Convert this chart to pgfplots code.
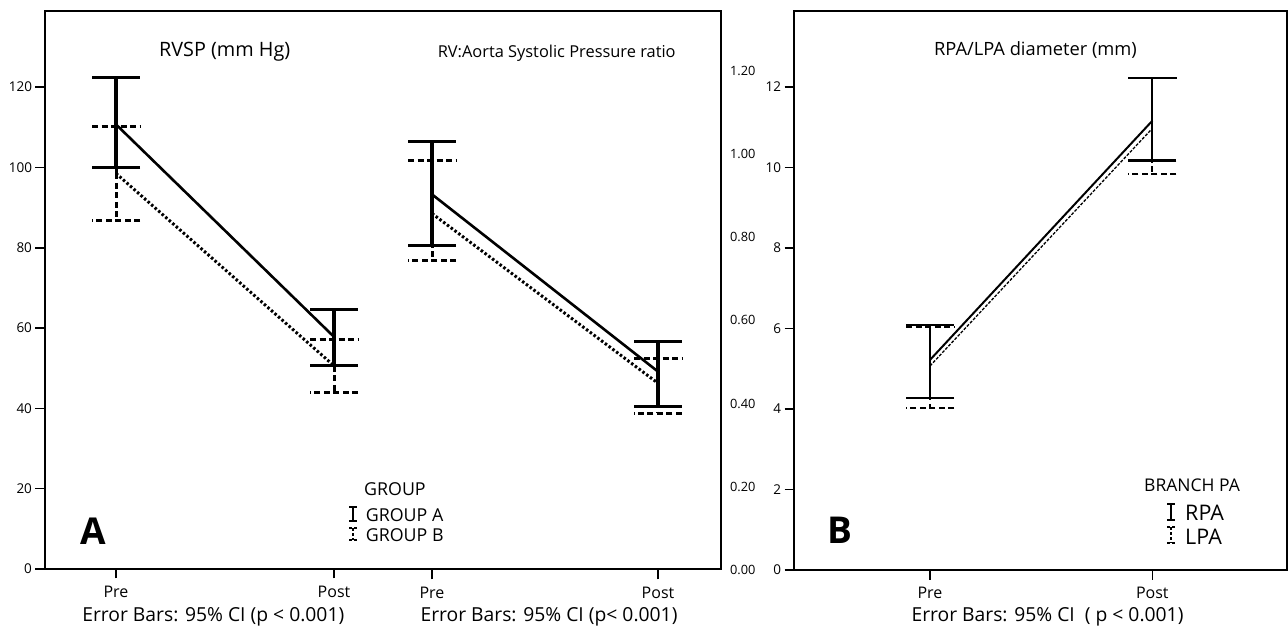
\documentclass[border=0pt]{standalone}
\usepackage{fontspec}
\setmainfont{Open Sans}
\usepackage{pgfplots}
\pgfplotsset{compat=1.18}
\begin{document}
\begin{tikzpicture}[x=1pt,y=1pt]
\path[use as bounding box] (0,0) rectangle (1288,627);
\pgfplotsset{
  every axis/.append style={scale only axis, anchor=south west,
    /pgf/number format/assume math mode=true,
    tick align=outside, major tick length=9.5pt,
    xtick pos=bottom, xtick={0,1}, xticklabels={Pre,Post},
    x tick label style={font=\fontsize{16}{18}\selectfont, yshift=-4pt},
    y tick label style={font=\fontsize{13.5}{15}\selectfont},
    axis line style={line width=1.6pt},
    tick style={line width=1.6pt, black}},
  solidA/.style={line width=2.6pt, black, no markers, solid,
    error bars/.cd, y dir=both, y explicit,
    error bar style={line width=3.2pt, solid},
    error mark options={rotate=90, line width=3.2pt, mark size=24pt, solid}},
  dashA/.style={line width=3pt, black, no markers, dash pattern=on 2.5pt off 2.2pt,
    error bars/.cd, y dir=both, y explicit,
    error bar style={line width=3pt, dash pattern=on 6pt off 3.5pt},
    error mark options={rotate=90, line width=3pt, mark size=24pt, dash pattern=on 6pt off 3.5pt}},
  solidB/.style={line width=2pt, black, no markers, solid,
    error bars/.cd, y dir=both, y explicit,
    error bar style={line width=2.2pt, solid},
    error mark options={rotate=90, line width=2.4pt, mark size=24pt, solid}},
  dashB/.style={line width=1.3pt, black, no markers, dash pattern=on 3pt off 1.5pt,
    error bars/.cd, y dir=both, y explicit,
    error bar style={line width=2.2pt, dash pattern=on 6pt off 3.5pt},
    error mark options={rotate=90, line width=2.4pt, mark size=24pt, dash pattern=on 6pt off 3.5pt}},
}
% Panel A: RVSP
\begin{axis}[at={(45pt,58pt)}, width=676pt, height=558pt,
  xmin=-0.3257, xmax=2.775, ymin=0, ymax=138.94,
  ytick={0,20,...,120}, ytick pos=left]
\addplot[dashA]
  coordinates {(0,98.5) += (0,11.6) -= (0,11.8) (1,50.6) += (0,6.5) -= (0,6.6)};
\addplot[solidA]
  coordinates {(0,110.7) += (0,11.7) -= (0,10.8) (1,57.8) += (0,6.9) -= (0,7.2)};
\end{axis}
% Panel A: RV:Aorta ratio
\begin{axis}[at={(45pt,57pt)}, width=676pt, height=559pt,
  xmin=-1.7124, xmax=1.2788, ymin=0, ymax=1.3438,
  axis line style={draw=none},
  ytick={0,0.2,...,1.2}, ytick pos=right, yticklabel pos=right,
  y tick style={draw=none},
  y tick label style={font=\fontsize{12.8}{14}\selectfont, xshift=-4pt,
    /pgf/number format/.cd, fixed, fixed zerofill, precision=2}]
\addplot[dashA]
  coordinates {(0,0.857) += (0,0.127) -= (0,0.114) (1,0.449) += (0,0.059) -= (0,0.072)};
\addplot[solidA]
  coordinates {(0,0.903) += (0,0.127) -= (0,0.123) (1,0.477) += (0,0.072) -= (0,0.084)};
\end{axis}
% Panel B: RPA/LPA diameter
\begin{axis}[at={(794pt,57pt)}, width=493pt, height=559pt,
  xmin=-0.6118, xmax=1.606, ymin=0, ymax=13.888,
  ytick={0,2,...,12}, ytick pos=left]
\addplot[dashB]
  coordinates {(0,5.07) += (0,0.96) -= (0,1.05) (1,10.97) += (0,1.25) -= (0,1.13)};
\addplot[solidB]
  coordinates {(0,5.22) += (0,0.87) -= (0,0.95) (1,11.16) += (0,1.07) -= (0,0.99)};
\end{axis}
% titles
\node[font=\fontsize{19.8}{22}\selectfont] at (224.7,575) {RVSP (mm Hg)};
\node[font=\fontsize{16.4}{20}\selectfont] at (556.7,574) {RV:Aorta Systolic Pressure ratio};
\node[font=\fontsize{18.3}{22}\selectfont] at (1035.5,577) {RPA/LPA diameter (mm)};
% panel letters
\node[font=\fontsize{37}{40}\selectfont\bfseries] at (93.5,95.5) {A};
\node[font=\fontsize{37}{40}\selectfont\bfseries] at (840,96.5) {B};
% legend A
\node[anchor=west, inner sep=0pt, font=\fontsize{17.8}{20}\selectfont] at (364,138) {GROUP};
\node[anchor=west, inner sep=0pt, font=\fontsize{17.8}{20}\selectfont] at (365.7,112) {GROUP A};
\node[anchor=west, inner sep=0pt, font=\fontsize{17.8}{20}\selectfont] at (365.7,92) {GROUP B};
\draw[line width=2.5pt] (349,120)--(357,120) (353,120)--(353,106) (349,106)--(357,106);
\draw[line width=2.5pt, dash pattern=on 3pt off 2pt] (349,99)--(357,99) (353,99)--(353,87) (349,87)--(357,87);
% legend B
\node[anchor=west, inner sep=0pt, font=\fontsize{17.5}{19}\selectfont] at (1144,142) {BRANCH PA};
\node[anchor=west, inner sep=0pt, font=\fontsize{21.5}{23}\selectfont] at (1185,114) {RPA};
\node[anchor=west, inner sep=0pt, font=\fontsize{21.5}{23}\selectfont] at (1185,90) {LPA};
\draw[line width=2pt] (1167,123)--(1175,123) (1171,123)--(1171,107) (1167,107)--(1175,107);
\draw[line width=2pt, dash pattern=on 3pt off 2pt] (1167,100)--(1175,100) (1171,100)--(1171,84) (1167,84)--(1175,84);
% captions
\node[anchor=base, font=\fontsize{19.3}{21}\selectfont] at (213.3,6) {Error Bars: 95\% CI (p < 0.001)};
\node[anchor=base, font=\fontsize{19.3}{21}\selectfont] at (549,6) {Error Bars: 95\% CI (p< 0.001)};
\node[anchor=base, font=\fontsize{19.3}{21}\selectfont] at (1047.5,6) {Error Bars: 95\% CI \ ( p < 0.001)};
\end{tikzpicture}
\end{document}
